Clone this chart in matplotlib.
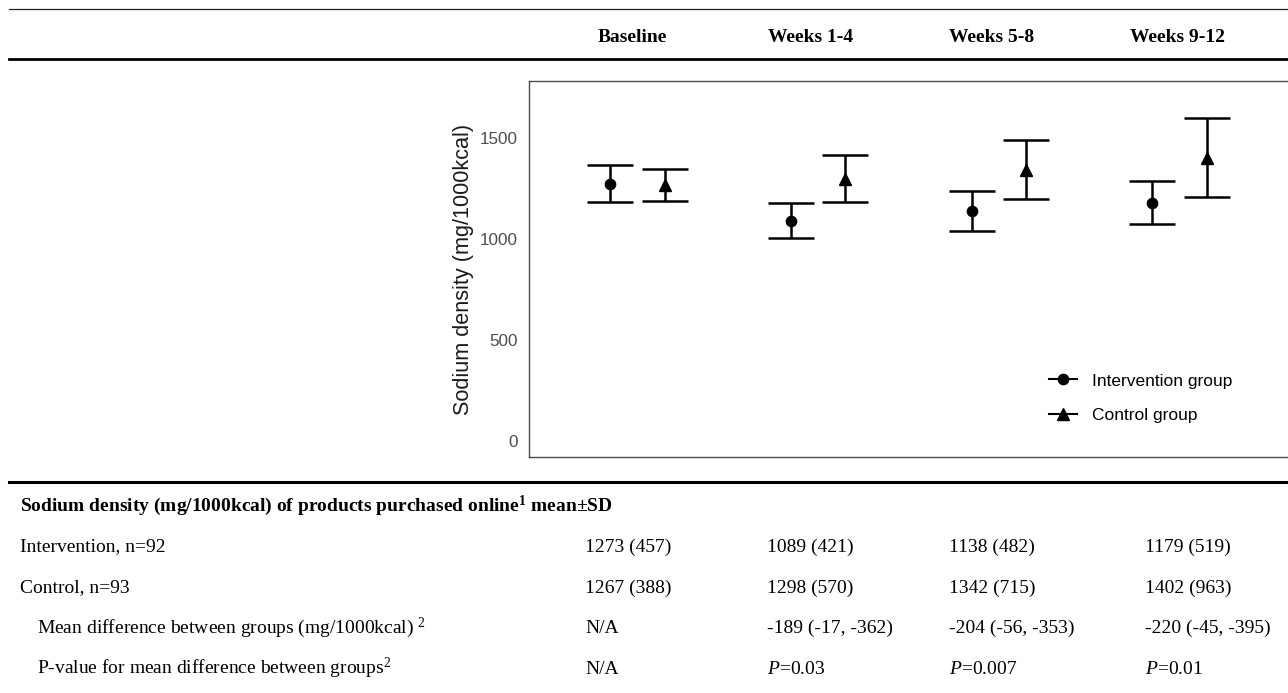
import matplotlib
matplotlib.use("Agg")
import matplotlib.pyplot as plt
from matplotlib.lines import Line2D
import numpy as np

# ---------------- data ----------------
periods = ["Baseline", "Weeks 1-4", "Weeks 5-8", "Weeks 9-12"]
int_mean = [1273, 1089, 1138, 1179]
int_lo = [1180, 1003, 1040, 1073]
int_hi = [1366, 1175, 1236, 1285]
ctl_mean = [1267, 1298, 1342, 1402]
ctl_lo = [1188, 1182, 1197, 1206]
ctl_hi = [1346, 1414, 1487, 1598]
yticks = [0, 500, 1000, 1500]
series_labels = ["Intervention group", "Control group"]

title_row = r"Sodium density (mg/1000kcal) of products purchased online$^{\mathbf{1}}$ mean±SD"
row_labels = ["Intervention, n=92", "Control, n=93",
              r"Mean difference between groups (mg/1000kcal) $^{2}$",
              r"P-value for mean difference between groups$^{2}$"]
int_cells = ["1273 (457)", "1089 (421)", "1138 (482)", "1179 (519)"]
ctl_cells = ["1267 (388)", "1298 (570)", "1342 (715)", "1402 (963)"]
diff_cells = ["N/A", "-189 (-17, -362)", "-204 (-56, -353)", "-220 (-45, -395)"]
p_cells = ["N/A", r"$\mathit{P}$=0.03", r"$\mathit{P}$=0.007", r"$\mathit{P}$=0.01"]

# ---------------- style ----------------
plt.rcParams['mathtext.fontset'] = 'custom'
plt.rcParams['mathtext.rm'] = 'Liberation Serif'
plt.rcParams['mathtext.it'] = 'Liberation Serif:italic'
plt.rcParams['mathtext.bf'] = 'Liberation Serif:bold'

W, H = 1288, 693
fig = plt.figure(figsize=(W / 100, H / 100), dpi=100)

def fx(px):
    return px / W

def fy(py):
    return 1 - py / H

serif = 'Liberation Serif'
sans = 'Liberation Sans'
fs_tab = 14

# ---------------- table lines ----------------
fig.add_artist(Line2D([fx(9), 1], [fy(9.3)] * 2, lw=0.9, color='#222222'))
fig.add_artist(Line2D([fx(9), 1], [fy(58.6)] * 2, lw=2.0, color='black'))
fig.add_artist(Line2D([fx(9), 1], [fy(481.5)] * 2, lw=2.2, color='black'))

# headers
header_x = [598, 768, 949, 1130]
for x, lab in zip(header_x, periods):
    fig.text(fx(x), fy(41.7), lab, family=serif, weight='bold', fontsize=fs_tab,
             ha='left', va='baseline')

# table rows
fig.text(fx(20), fy(511.5), title_row, family=serif, weight='bold', fontsize=fs_tab,
         ha='left', va='baseline')
label_x = [20, 20, 37, 37]
row_base = [551.5, 592.5, 633.0, 674.0]
cell_x = [585, 767, 949, 1145]
rows = [int_cells, ctl_cells, diff_cells, p_cells]
for lx, yb, lab, cells in zip(label_x, row_base, row_labels, rows):
    fig.text(fx(lx), fy(yb), lab, family=serif, fontsize=fs_tab, ha='left', va='baseline')
    for cx, c in zip(cell_x, cells):
        fig.text(fx(cx), fy(yb), c, family=serif, fontsize=fs_tab, ha='left', va='baseline')

# ---------------- chart ----------------
ax = fig.add_axes([fx(529), 1 - 457 / H, 1 - fx(529), (457 - 81) / H])
x = np.arange(len(periods))
dodge = 0.15
im = np.array(int_mean); cm = np.array(ctl_mean)
ax.errorbar(x - dodge, im, yerr=[im - np.array(int_lo), np.array(int_hi) - im],
            fmt='o', color='black', ms=7.4, elinewidth=1.8, capsize=16.4, capthick=1.8)
ax.errorbar(x + dodge, cm, yerr=[cm - np.array(ctl_lo), np.array(ctl_hi) - cm],
            fmt='^', color='black', ms=8.8, elinewidth=1.8, capsize=16.4, capthick=1.8)

ax.set_xlim(-0.6, 3.6)
ax.set_ylim(-81, 1781)
ax.set_xticks([])
ax.set_yticks(yticks)
ax.set_yticklabels([str(t) for t in yticks], family=sans, fontsize=12.3, color='#4d4d4d')
ax.tick_params(axis='y', length=0, pad=8)
ax.set_ylabel("Sodium density (mg/1000kcal)", family=sans, fontsize=15.6,
              color='#1a1a1a', labelpad=4)
for s in ['left', 'top', 'bottom']:
    ax.spines[s].set_color('#4d4d4d')
    ax.spines[s].set_linewidth(1.0)
ax.spines['right'].set_visible(False)

handles = [Line2D([], [], color='black', marker='o', ms=7.4, lw=1.5),
           Line2D([], [], color='black', marker='^', ms=8.2, lw=1.5)]
leg = fig.legend(handles, series_labels, loc='center left',
                 bbox_to_anchor=(fx(1049), fy(398)), frameon=False,
                 prop={'family': sans, 'size': 12.5}, borderpad=0, borderaxespad=0,
                 handlelength=1.61, handletextpad=0.86, labelspacing=1.09)

fig.savefig("out.png", dpi=100)
